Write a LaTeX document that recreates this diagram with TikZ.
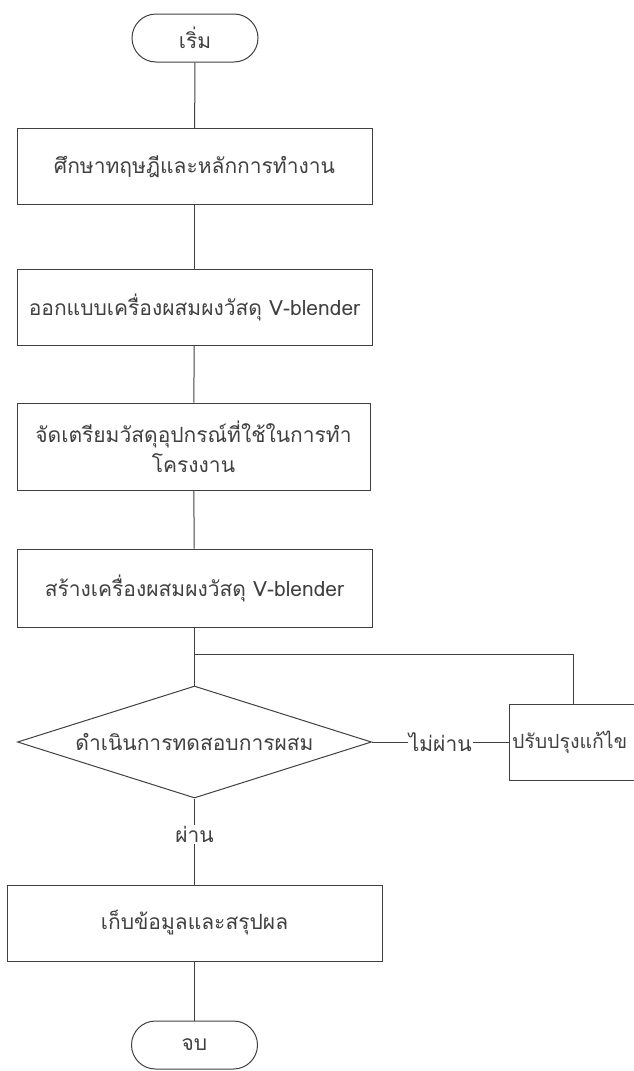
\documentclass[tikz,border=0pt]{standalone}
\usepackage{fontspec}
\newfontfamily\thaifont[Script=Thai]{Loma}
\usetikzlibrary{shapes.geometric}
\tikzset{
  flow/.style={draw=black!75,line width=1pt},
  stepbox/.style={flow,rectangle,minimum height=76pt,inner sep=0pt,text=black!75},
  term/.style={flow,rectangle,rounded corners=24pt,minimum width=126pt,minimum height=48pt,inner sep=0pt,text=black!75},
  test/.style={flow,diamond,aspect=3.16,minimum width=354pt,minimum height=112pt,inner sep=0pt,text=black!75},
  lbl/.style={fill=white,inner sep=1pt,text=black!75}
}
\begin{document}
\begin{tikzpicture}[x=1pt,y=-1pt,font=\thaifont\fontsize{21}{30}\selectfont]
    \useasboundingbox (0,0) rectangle (633,1071);
    \node[term] (start) at (195,38) {เริ่ม};
    \node[stepbox,minimum width=355pt] (study) at (194.5,166.5) {ศึกษาทฤษฎีและหลักการทำงาน};
    \node[stepbox,minimum width=355pt] (design) at (194.5,307.5) {ออกแบบเครื่องผสมผงวัสดุ V-blender};
    \node[stepbox,minimum width=353pt,minimum height=87pt,align=center] (prep) at (193.5,446.5)
      {จัดเตรียมวัสดุอุปกรณ์ที่ใช้ในการทำ\\โครงงาน};
    \node[stepbox,minimum width=355pt,minimum height=78pt] (build) at (194.5,588) {สร้างเครื่องผสมผงวัสดุ V-blender};
    \coordinate (join) at (194.5,654);
    \node[test] (mix) at (194.5,742) {ดำเนินการทดสอบการผสม};
    \node[stepbox,minimum width=160pt,text width=154pt,align=left,font=\thaifont\fontsize{19.5}{26}\selectfont] (fix) at (589,742) {ปรับปรุงแก้ไข};
    \node[stepbox,minimum width=375pt] (save) at (194.5,923) {เก็บข้อมูลและสรุปผล};
    \node[term] (stop) at (194.5,1045) {จบ};

    \draw[flow] (start) -- (study);
    \draw[flow] (study) -- (design);
    \draw[flow] (design) -- (prep);
    \draw[flow] (prep) -- (build);
    \draw[flow] (build) -- (join) -- (mix);
    \draw[flow] (fix.north -| 573,0) |- (join);
    \draw[flow] (mix.east) -- node[lbl] {ไม่ผ่าน} (fix.west);
    \draw[flow] (mix.south) -- node[lbl,pos=0.42] {ผ่าน} (save.north);
    \draw[flow] (save) -- (stop);
\end{tikzpicture}
\end{document}
